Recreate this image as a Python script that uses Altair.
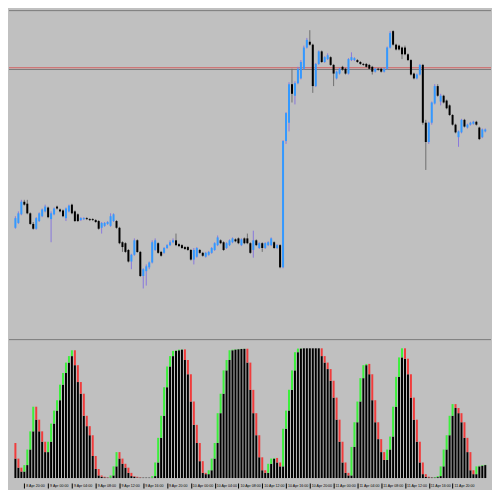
import altair as alt
import pandas as pd

# ---------------- candles (price units, higher = higher on screen) ----------------
open_p = [113,118,127,140,138,128,117,112,120,125,
          130,134,122,127,135,132,131,123,130,137,
          130,127,121,122,123,122,122,121,120,113,
          115,117,115,120,120,113,98,97,90,78,
          85,100,88,63,68,72,77,90,97,88,
          87,92,95,98,100,96,95,93,93,90,
          80,83,90,87,83,85,87,90,95,100,
          98,92,95,98,101,102,95,102,102,97,
          90,100,92,97,92,95,95,98,92,95,
          72,203,222,262,250,263,268,278,300,306,
          303,260,283,296,285,288,290,282,268,273,
          280,278,273,287,287,287,285,283,283,282,
          280,275,278,278,275,278,300,317,303,302,
          300,300,293,287,273,268,272,282,222,202,
          222,242,260,244,250,245,240,230,220,207,
          212,225,217,220,221,223,217,207,213]
close_p = [123,128,140,137,128,117,112,123,128,132,
           135,124,128,133,133,130,125,133,136,128,
           120,120,123,123,122,121,121,119,112,118,
           118,119,125,127,113,97,93,88,78,85,
           100,88,63,70,73,77,98,100,87,84,
           92,95,98,100,95,94,92,91,90,80,
           90,92,87,84,87,88,92,97,103,97,
           90,97,100,102,99,97,101,97,97,87,
           100,95,97,92,97,98,102,92,95,72,
           203,232,262,252,263,278,285,300,308,303,
           260,283,296,285,290,292,282,273,275,278,
           277,273,288,290,289,285,283,282,280,278,
           275,278,277,275,278,300,315,303,298,298,
           293,293,287,272,268,272,282,222,202,222,
           243,260,250,250,243,237,230,220,212,213,
           225,218,220,222,223,220,205,215,215]
high_p = [125,130,142,142,142,129,119,124,129,133,
          137,135,130,134,136,133,132,134,137,138,
          131,128,124,124,124,123,123,122,121,119,
          119,120,128,128,121,114,99,98,91,86,
          102,101,89,71,75,78,100,102,98,89,
          93,96,100,102,107,97,96,94,94,91,
          92,93,91,88,88,89,93,98,105,101,
          99,98,101,103,102,103,102,103,107,98,
          110,101,98,98,98,99,103,99,96,96,
          204,233,264,278,265,280,287,302,310,318,
          304,284,297,297,291,294,291,283,276,279,
          281,279,289,295,290,288,286,284,284,283,
          281,279,279,279,279,301,317,318,304,303,
          301,302,294,288,274,273,283,283,225,223,
          244,262,262,252,251,246,241,231,221,214,
          226,226,221,223,224,224,218,216,216]
low_p = [112,117,126,136,127,116,111,111,119,124,
         129,123,98,126,132,129,124,120,129,127,
         119,119,120,121,121,120,120,118,111,107,
         114,116,114,119,112,96,88,87,77,70,
         84,87,62,50,53,70,76,89,86,83,
         86,91,94,97,94,93,91,90,89,79,
         75,82,86,83,82,84,86,89,94,96,
         89,91,94,97,98,96,94,96,96,86,
         82,94,91,88,91,94,94,91,91,71,
         71,200,213,243,241,262,267,277,299,302,
         253,259,282,284,284,287,281,260,267,272,
         276,272,272,286,286,284,282,281,279,277,
         272,274,276,274,274,277,299,302,297,297,
         288,292,286,271,267,267,271,220,173,200,
         220,241,249,240,242,236,229,219,211,197,
         211,217,216,219,220,219,204,206,212]

# horizontal price levels (window top border, red line, grey line)
level_values = [338.3, 279.0, 277.2]
level_colors = ["#7A7A7A", "#D25A5A", "#7A7A7A"]

# ---------------- oscillator histogram (0..100) ----------------
osc_before_first = 27
osc = [15,8,5,10,22,36,55,45,36,28,
       20,28,42,52,60,72,81,89,94,98.5,
       87,74,65,48,40,33,17,7,2,1,
       0.5,0.3,2,9,20,15,11,8,4,1.5,
       1,0.5,0.3,0.3,0.3,0.3,1.5,12,31,48,
       70,86,94,98,98.5,99,99.2,91,80,59,
       41,27,13,4,3,6,15,27,50,65,
       83,91,98.5,99,99.3,99.5,99.6,99.7,89,68,
       50,33,16,6,4,11,15,15.5,12,9,
       38,52,68,83,97,99.8,100,100,100,100,
       100,100,100,94,89,84,75,62,45,28,
       12,4,2,24,43,59,77,87,88,80,
       60,43,30,20,14,22,32,55,78,93,
       100,92,80,62,45,28,12,3,1,0.5,
       0.4,0.7,1.5,9,22,33,48,57,54,50,
       43,31,20,6,3,9,9.5,10,10.2]

# ---------------- time axis ----------------
time_labels = ["8 Apr 20:00", "9 Apr 00:00", "9 Apr 04:00", "9 Apr 08:00", "9 Apr 12:00",
               "9 Apr 16:00", "9 Apr 20:00", "10 Apr 00:00", "10 Apr 04:00", "10 Apr 08:00",
               "10 Apr 12:00", "10 Apr 16:00", "10 Apr 20:00", "11 Apr 00:00", "11 Apr 04:00",
               "11 Apr 08:00", "11 Apr 12:00", "11 Apr 16:00", "11 Apr 20:00"]
label_bars = [3, 11, 19, 27, 35, 43, 51, 59, 67, 75, 83, 91, 99, 107, 115, 123, 131, 139, 147]

BULL_BODY = "#3399FF"
BULL_WICK = "#8878DD"
BEAR_BODY = "#000000"
BEAR_WICK = "#6E6E6E"
UP_COL = "#3CF03C"
DN_COL = "#F03C3C"
BG = "#C0C0C0"

n = len(open_p)
bars = list(range(n))
cdf = pd.DataFrame({"bar": bars, "open": open_p, "close": close_p, "high": high_p, "low": low_p})
cdf["body_color"] = [BULL_BODY if c >= o else BEAR_BODY for o, c in zip(open_p, close_p)]
cdf["wick_color"] = [BULL_WICK if c >= o else BEAR_WICK for o, c in zip(open_p, close_p)]

prev = [osc_before_first] + osc[:-1]
hdf = pd.DataFrame({"bar": bars,
                    "top": [max(a, b) for a, b in zip(osc, prev)],
                    "base": [min(a, b) for a, b in zip(osc, prev)],
                    "col": [UP_COL if a >= b else DN_COL for a, b in zip(osc, prev)]})

ldf = pd.DataFrame({"level": level_values, "c": level_colors})

W = 484
H_TOP = 331
H_BOT = 139

x_scale = alt.Scale(domain=[-0.48, 158.25], nice=False, zero=False)
y_top = alt.Scale(domain=[-2, 340], nice=False, zero=False)
y_bot = alt.Scale(domain=[0, 106.7], nice=False, zero=False)

x_top = alt.X("bar:Q", scale=x_scale, axis=None)

labels_js = "[" + ",".join("'%s'" % t for t in time_labels) + "]"
bot_axis = alt.Axis(values=label_bars,
                    labelExpr=labels_js + "[round((datum.value - 3) / 8)]",
                    grid=False, domain=False, ticks=True, tickSize=5, tickColor="#000000",
                    tickWidth=1, offset=5, labelFontSize=3.6, labelFont="Liberation Sans",
                    labelColor="#000000", labelAlign="left", labelBaseline="top",
                    labelPadding=-5, labelOffset=1.5, labelOverlap=False, labelFlush=False,
                    labelBound=False, title=None)
x_bot = alt.X("bar:Q", scale=x_scale, axis=bot_axis)

lines = alt.Chart(ldf).mark_rule(strokeWidth=1).encode(
    y=alt.Y("level:Q", scale=y_top, axis=None),
    color=alt.Color("c:N", scale=None))

wicks = alt.Chart(cdf).mark_rule(strokeWidth=1).encode(
    x=x_top,
    y=alt.Y("low:Q", scale=y_top, axis=None),
    y2="high:Q",
    color=alt.Color("wick_color:N", scale=None))

bodies = alt.Chart(cdf).mark_bar(size=2).encode(
    x=x_top,
    y=alt.Y("open:Q", scale=y_top, axis=None),
    y2="close:Q",
    color=alt.Color("body_color:N", scale=None))

top = alt.layer(lines, wicks, bodies).properties(width=W, height=H_TOP)

black = alt.Chart(hdf).mark_bar(size=2.0, color="#000000").encode(
    x=x_bot,
    y=alt.Y("base:Q", scale=y_bot, axis=None))

colored = alt.Chart(hdf).mark_bar(size=2.0).encode(
    x=x_bot,
    y=alt.Y("top:Q", scale=y_bot, axis=None),
    y2="base:Q",
    color=alt.Color("col:N", scale=None))

sep = alt.Chart(pd.DataFrame({"level": [106.7]})).mark_rule(strokeWidth=1, color="#7A7A7A").encode(
    y=alt.Y("level:Q", scale=y_bot, axis=None))

bottom = alt.layer(black, colored, sep).properties(width=W, height=H_BOT)

chart = alt.vconcat(top, bottom, spacing=0).properties(
    background=BG, padding=0
).configure_view(stroke=None)

chart.save("out.html", embed_options={"renderer": "svg", "actions": False})
